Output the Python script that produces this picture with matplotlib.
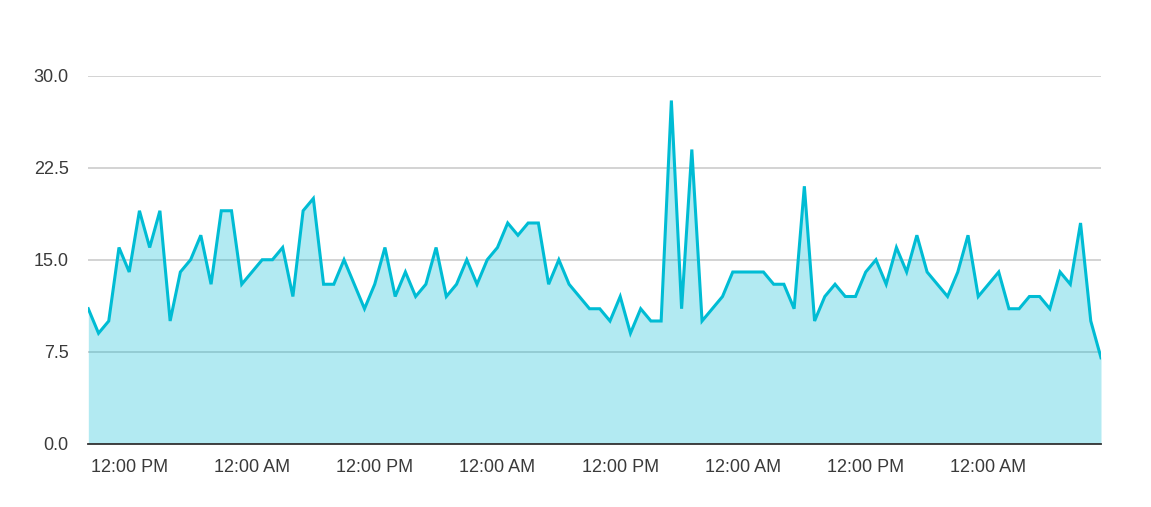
import matplotlib
matplotlib.use("Agg")
import matplotlib.pyplot as plt
import matplotlib.dates as mdates
import pandas as pd

# hourly readings, 100 points
start_time = "2020-01-06 08:00"
values = [
    11, 9, 10, 16, 14, 19, 16, 19, 10, 14,
    15, 17, 13, 19, 19, 13, 14, 15, 15, 16,
    12, 19, 20, 13, 13, 15, 13, 11, 13, 16,
    12, 14, 12, 13, 16, 12, 13, 15, 13, 15,
    16, 18, 17, 18, 18, 13, 15, 13, 12, 11,
    11, 10, 12, 9, 11, 10, 10, 28, 11, 24,
    10, 11, 12, 14, 14, 14, 14, 13, 13, 11,
    21, 10, 12, 13, 12, 12, 14, 15, 13, 16,
    14, 17, 14, 13, 12, 14, 17, 12, 13, 14,
    11, 11, 12, 12, 11, 14, 13, 18, 10, 7,
]
y_ticks = [0.0, 7.5, 15.0, 22.5, 30.0]

times = pd.date_range(start_time, periods=len(values), freq="h")

plt.rcParams["font.family"] = ["Liberation Sans", "DejaVu Sans"]

line_color = "#00BCD4"

fig = plt.figure(figsize=(11.51, 5.07), dpi=100)
ax = fig.add_axes([88.3 / 1151, 63.5 / 507, (1101 - 88.3) / 1151, (431 - 63.5) / 507])

ax.fill_between(times, values, 0, color=line_color, alpha=0.3, linewidth=0, zorder=2)
ax.plot(times, values, color=line_color, linewidth=2.2, zorder=3, solid_joinstyle="miter")

ax.set_xlim(times[0], times[-1])
ax.set_ylim(0, 30)
ax.set_yticks(y_ticks)
ax.set_yticklabels([f"{v:.1f}" for v in y_ticks])

ax.xaxis.set_major_locator(mdates.HourLocator(byhour=[0, 12]))
ax.xaxis.set_major_formatter(mdates.DateFormatter("%I:%M %p"))

ax.grid(axis="y", color="#cccccc", linewidth=1.2, zorder=1)
ax.set_axisbelow(True)
ax.tick_params(axis="both", length=0, labelsize=13, colors="#3a3a3a")
ax.tick_params(axis="y", pad=14)
ax.tick_params(axis="x", pad=11.5)

for side in ["top", "right", "left"]:
    ax.spines[side].set_visible(False)
ax.spines["bottom"].set_color("#333333")
ax.spines["bottom"].set_linewidth(1.3)
ax.spines["bottom"].set_zorder(4)

fig.savefig("out.png", dpi=100, facecolor="white")
